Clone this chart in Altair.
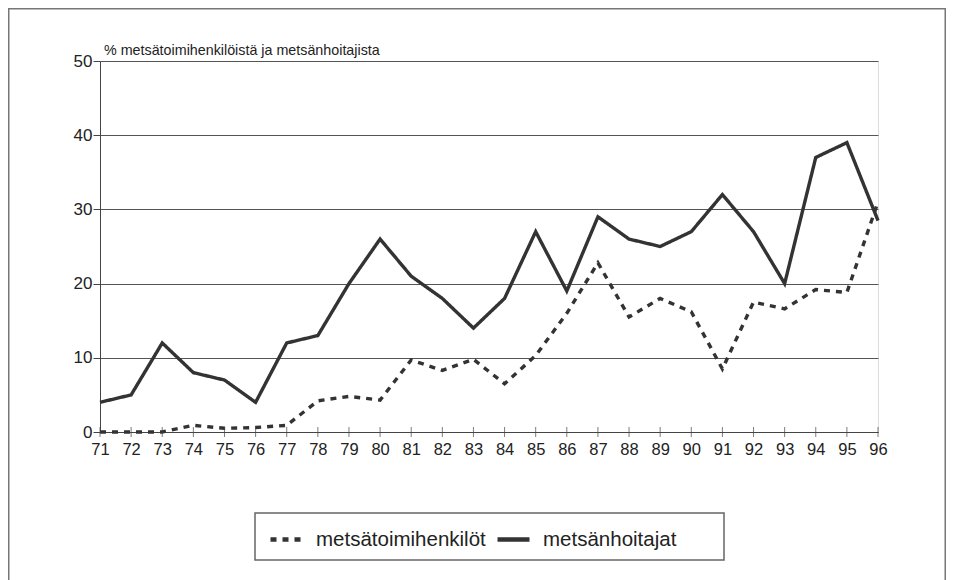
import altair as alt
import pandas as pd

years = list(range(71, 97))
metsanhoitajat = [4, 5, 12, 8, 7, 4, 12, 13, 20, 26, 21, 18, 14, 18, 27, 19, 29, 26, 25, 27, 32, 27, 20, 37, 39, 28.5]
metsatoimihenkilot = [0, 0, 0, 0.9, 0.5, 0.6, 0.9, 4.2, 4.8, 4.3, 9.7, 8.3, 9.8, 6.5, 10.3, 16, 22.8, 15.5, 18, 16.2, 8.5, 17.5, 16.6, 19.2, 18.8, 31]
series = ["metsätoimihenkilöt", "metsänhoitajat"]
y_ticks = [0, 10, 20, 30, 40, 50]
y_title = "% metsätoimihenkilöistä ja metsänhoitajista"

rows = []
for name, vals in zip(series, [metsatoimihenkilot, metsanhoitajat]):
    for yr, v in zip(years, vals):
        rows.append({"vuosi": yr, "arvo": v, "sarja": name})
df = pd.DataFrame(rows)

FONT = "Liberation Sans"
W, H = 778, 371
PL, PT = 92, 53
TOTAL_W, TOTAL_H = 938, 572

x_enc = alt.X("vuosi:Q", scale=alt.Scale(domain=[71, 96], nice=False, zero=False),
              axis=alt.Axis(values=years, format="d", title=None, ticks=False,
                            labelFontSize=16.5, labelPadding=9, grid=False,
                            labelOverlap=False, labelBound=False, labelFlush=False,
                            labelSeparation=0,
                            domainColor="#444", labelColor="#222", labelFont=FONT))
y_enc = alt.Y("arvo:Q", scale=alt.Scale(domain=[0, 50], nice=False),
              axis=alt.Axis(values=y_ticks, title=None, tickSize=7, tickColor="#444",
                            labelFontSize=17, labelPadding=1, gridColor="#555",
                            gridWidth=1, domainColor="#444", labelColor="#222",
                            labelFont=FONT))

lines = alt.Chart(df).mark_line(color="#333", strokeWidth=3.4).encode(
    x=x_enc,
    y=y_enc,
    strokeDash=alt.StrokeDash(
        "sarja:N",
        scale=alt.Scale(domain=series, range=[[6, 6], [1, 0]]),
        legend=alt.Legend(title=None, orient="none", legendX=168, legendY=460,
                          direction="horizontal", padding=0, labelLimit=400,
                          labelFontSize=20.5, labelFont=FONT, labelColor="#222",
                          symbolType="stroke", symbolSize=1024, symbolStrokeWidth=4.5,
                          symbolStrokeColor="#333", labelOffset=11, columnPadding=2),
    ),
)

ticks = alt.Chart(pd.DataFrame({"vuosi": years})).mark_tick(
    orient="vertical", size=10, thickness=1, color="#444"
).encode(x=x_enc, y=alt.value(H))

title_txt = alt.Chart(pd.DataFrame({"t": [y_title]})).mark_text(
    align="left", baseline="bottom", fontSize=14.3, font=FONT, color="#222"
).encode(text="t:N", x=alt.value(4), y=alt.value(-3))

one = pd.DataFrame({"k": [0]})
legend_box = alt.Chart(one).mark_rect(fill="white", stroke="#666", strokeWidth=1.5).encode(
    x=alt.value(155), x2=alt.value(624), y=alt.value(452), y2=alt.value(499))
frame_left = alt.Chart(one).mark_rule(color="#777", strokeWidth=1.5).encode(
    x=alt.value(-PL + 0.75), y=alt.value(-PT + 0.75), y2=alt.value(TOTAL_H - PT))
frame_top = alt.Chart(one).mark_rule(color="#777", strokeWidth=1.5).encode(
    x=alt.value(-PL), x2=alt.value(TOTAL_W - PL), y=alt.value(-PT + 0.75))
frame_right = alt.Chart(one).mark_rule(color="#777", strokeWidth=1.5).encode(
    x=alt.value(TOTAL_W - PL - 0.75), y=alt.value(-PT + 0.75), y2=alt.value(TOTAL_H - PT))

chart = alt.layer(legend_box, lines, ticks, title_txt, frame_left, frame_top, frame_right).properties(
    width=W, height=H,
    autosize=alt.AutoSizeParams(type="none"),
    padding={"left": PL, "top": PT, "right": TOTAL_W - PL - W, "bottom": TOTAL_H - PT - H},
).configure_view(stroke="#555", strokeWidth=1).configure(background="white")

chart.save("out.html", embed_options={"renderer": "svg", "actions": False})
